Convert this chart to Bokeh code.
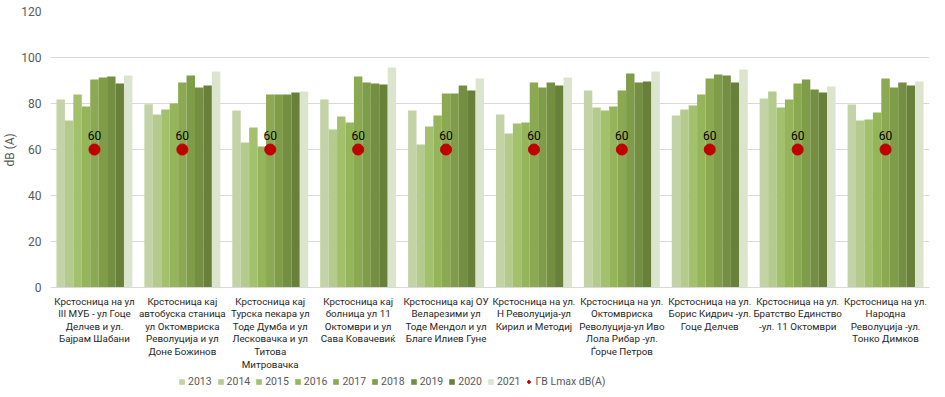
from bokeh.plotting import figure
from bokeh.models import Legend, LegendItem, FactorRange, Range1d, FixedTicker
from bokeh.transform import dodge
from bokeh.embed import file_html
from bokeh.resources import INLINE
from bokeh.core.properties import value

categories = [
    "Крстосница на ул\nIII МУБ - ул Гоце\nДелчев и ул.\nБајрам Шабани",
    "Крстосница кај\nавтобуска станица\nул Октомвриска\nРеволуција и ул\nДоне Божинов",
    "Крстосница кај\nТурска пекара ул\nТоде Думба и ул\nЛесковачка и ул\nТитова\nМитровачка",
    "Крстосница кај\nболница ул 11\nОктомври и ул\nСава Ковачевиќ",
    "Крстосница кај ОУ\nВеларезими ул\nТоде Мендол и ул\nБлаге Илиев Гуне",
    "Крстосница на ул.\nН Револуција-ул\nКирил и Методиј",
    "Крстосница на ул.\nОктомвриска\nРеволуција-ул Иво\nЛола Рибар -ул.\nЃорче Петров",
    "Крстосница на ул.\nБорис Кидрич -ул.\nГоце Делчев",
    "Крстосница на ул.\nБратство Единство\n-ул. 11 Октомври",
    "Крстосница на ул.\nНародна\nРеволуција -ул.\nТонко Димков",
]

years = ["2013", "2014", "2015", "2016", "2017", "2018", "2019", "2020", "2021"]

v2013 = [81.7, 79.7, 77.0, 81.7, 77.0, 75.2, 85.7, 74.8, 82.2, 79.6]
v2014 = [72.6, 75.2, 63.0, 68.7, 62.2, 67.0, 78.3, 77.4, 85.2, 72.6]
v2015 = [83.9, 77.4, 69.6, 74.3, 70.0, 71.3, 77.0, 79.1, 78.3, 73.0]
v2016 = [78.7, 80.0, 61.3, 71.7, 74.8, 71.7, 78.7, 83.9, 81.7, 76.1]
v2017 = [90.4, 89.1, 83.9, 91.7, 84.3, 89.1, 85.7, 90.9, 88.7, 90.9]
v2018 = [91.3, 92.2, 83.9, 89.1, 84.3, 87.0, 93.0, 92.6, 90.4, 87.0]
v2019 = [91.7, 87.0, 83.9, 88.7, 87.8, 89.1, 89.1, 92.2, 86.1, 89.1]
v2020 = [88.7, 87.8, 84.8, 88.3, 85.7, 87.8, 89.6, 89.1, 84.8, 87.8]
v2021 = [92.2, 93.9, 85.2, 95.7, 90.9, 91.3, 93.9, 94.8, 87.4, 89.6]

limit_name = "ГВ Lmax dB(A)"
limit = [60, 60, 60, 60, 60, 60, 60, 60, 60, 60]

y_ticks = [0, 20, 40, 60, 80, 100, 120]
y_axis_title = "dB (A)"

series = [v2013, v2014, v2015, v2016, v2017, v2018, v2019, v2020, v2021]
colors = ["#c3d3a6", "#b5cb8e", "#a3c06d", "#95b55a", "#8aa950", "#7f9c48",
          "#748f42", "#69803b", "#dbe5cd"]

# the frame extends below 0 so that the category labels and the legend sit inside it
p = figure(x_range=FactorRange(*categories), y_range=Range1d(-45.65, 120),
           frame_width=879, frame_height=381, output_backend="svg", toolbar_location=None,
           min_border_left=42, min_border_right=7, min_border_top=11,
           min_border_bottom=0)

p.outline_line_color = None
p.background_fill_color = "white"
p.border_fill_color = "white"

group_w = 0.864
bar_w = group_w / len(years)
items = []
for i, (yr, vals, col) in enumerate(zip(years, series, colors)):
    data = {"cat": categories, "val": vals}
    r = p.vbar(x=dodge("cat", (i - (len(years) - 1) / 2) * bar_w, range=p.x_range),
               top="val", width=bar_w, bottom=0, source=data,
               fill_color=col, line_color=None)
    items.append(LegendItem(label=yr, renderers=[r]))

dots = p.scatter(x=categories, y=limit, size=11, fill_color="#c00000", line_color="#c00000")
items.append(LegendItem(label=limit_name, renderers=[dots]))

p.text(x=categories, y=limit, text=[str(v) for v in limit], text_align="center",
       text_baseline="bottom", y_offset=-10, text_font_size="12px",
       text_font=value("Roboto"), text_color="#000000")

# y axis
p.yaxis.ticker = FixedTicker(ticks=y_ticks)
p.yaxis.axis_line_color = None
p.yaxis.major_tick_line_color = None
p.yaxis.minor_tick_line_color = None
p.yaxis.major_label_text_font_size = "12px"
p.yaxis.major_label_text_font = "Roboto"
p.yaxis.major_label_text_color = "#595959"
p.yaxis.major_label_standoff = 3
# leading no-break spaces move the rotated title up to the middle of the 0-120 area
p.yaxis.axis_label = "\u00a0" * 35 + y_axis_title
p.yaxis.axis_label_text_font_size = "12px"
p.yaxis.axis_label_text_font = "Roboto"
p.yaxis.axis_label_text_font_style = "normal"
p.yaxis.axis_label_text_color = "#595959"
p.yaxis.axis_label_standoff = 1

# x axis drawn at y = 0
p.xaxis.fixed_location = 0
p.xaxis.axis_line_color = "#d9d9d9"
p.xaxis.major_tick_line_color = None
p.xaxis.minor_tick_line_color = None
p.xaxis.major_label_text_font_size = "9.8px"
p.xaxis.major_label_text_font = "Roboto"
p.xaxis.major_label_text_color = "#262626"
p.xaxis.major_label_text_line_height = 1.15
p.xaxis.major_label_standoff = 2

p.xgrid.grid_line_color = None
p.ygrid.grid_line_color = "#d9d9d9"

legend = Legend(items=items, orientation="horizontal", location=(128, 4),
                border_line_color=None, background_fill_alpha=0,
                label_text_font_size="10.5px", label_text_font="Roboto",
                label_text_color="#595959", glyph_width=7, glyph_height=7,
                label_standoff=3, spacing=5, padding=0, margin=0)
p.add_layout(legend, "center")

open("out.html", "w").write(file_html(p, INLINE))
